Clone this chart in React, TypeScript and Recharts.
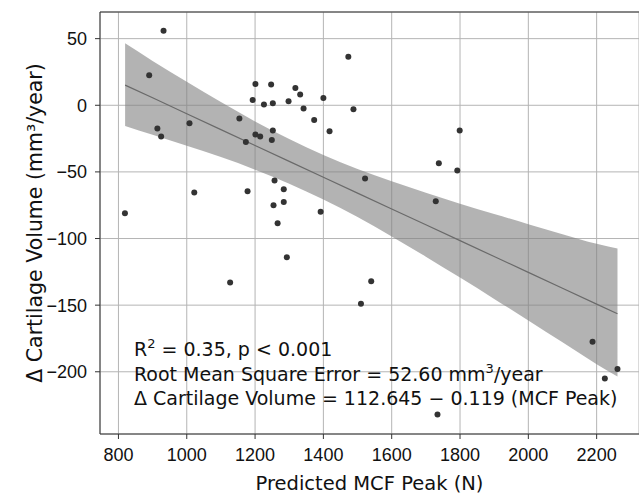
import React from "react";
import {
  ComposedChart,
  Area,
  Line,
  Scatter,
  XAxis,
  YAxis,
  CartesianGrid,
  ReferenceLine,
  Customized,
} from "recharts";

// measured points (MCF peak in N, cartilage change in mm3/year)
const pointX = [
  932, 890, 914, 925, 819, 1008, 1022, 1154, 1173, 1178, 1201, 1193, 1201, 1215, 1226, 1247,
  1252, 1252, 1249, 1257, 1284, 1254, 1284, 1266, 1298, 1318, 1332, 1342, 1373, 1400, 1392,
  1418, 1473, 1488, 1522, 1799, 1738, 1792, 1729, 1293, 1127, 1540, 1510, 2188, 2224, 2261, 1734,
];
const pointY = [
  56, 22.5, -17.5, -23.5, -81, -13.5, -65.5, -10, -27.5, -64.5, 16, 4, -22, -23.5, 0.5, 15.5,
  1.5, -19, -26, -56.5, -63, -75, -72.5, -88.5, 3, 13, 8, -2.5, -11, 5.5, -80,
  -19.5, 36.5, -3, -55, -19, -43.5, -49, -72, -114, -133, -132, -149, -177.5, -205, -198, -232,
];

// regression fit and its confidence band
const bandX = [819.5, 900, 1000, 1100, 1200, 1300, 1400, 1500, 1600, 1700, 1800, 1900, 2000, 2100, 2200, 2261];
const bandUpper = [46.5, 33.3, 17.6, 2.4, -12.1, -25.3, -37.3, -47.8, -57.1, -65.7, -73.9, -81.6, -89.2, -96.7, -104.0, -107.5];
const bandLower = [-15.5, -22.2, -30.4, -38.9, -48.3, -58.8, -70.7, -83.9, -98.5, -113.6, -129.3, -145.3, -161.5, -177.9, -194.3, -203.5];
const fitY = [15.1, 5.6, -6.4, -18.3, -30.2, -42.1, -54.0, -65.9, -77.8, -89.7, -101.6, -113.5, -125.4, -137.3, -149.2, -156.4];

const xTicks = [800, 1000, 1200, 1400, 1600, 1800, 2000, 2200];
const yTicks = [-200, -150, -100, -50, 0, 50];

const points = pointX.map((x, i) => ({ x, y: pointY[i] }));
const bandData = bandX.map((x, i) => ({ x, band: [bandLower[i], bandUpper[i]], fit: fitY[i] }));

const fmt = (v: number) => (v < 0 ? `\u2212${-v}` : `${v}`);

const Notes = () => (
  <g fontFamily="DejaVu Sans" fontSize={19} fill="#111">
    <text x={134} y={356}>
      R<tspan dy={-8} fontSize={13}>2</tspan>
      <tspan dy={8}> = 0.35, p &lt; 0.001</tspan>
    </text>
    <text x={134} y={381}>
      Root Mean Square Error = 52.60 mm<tspan dy={-8} fontSize={13}>3</tspan>
      <tspan dy={8}>/year</tspan>
    </text>
    <text x={134} y={405}>Δ Cartilage Volume = 112.645 − 0.119 (MCF Peak)</text>
  </g>
);

export default function App() {
  return (
    <div style={{ position: "absolute", left: 0, top: 0, background: "#fff" }}>
      <ComposedChart width={639} height={494} data={bandData} margin={{ top: 12, right: 0, bottom: 0, left: 0 }}>
        <CartesianGrid stroke="#b4b4b4" strokeWidth={1} />
        <XAxis
          type="number"
          dataKey="x"
          domain={[746, 2324]}
          ticks={xTicks}
          allowDataOverflow
          height={60}
          stroke="#333"
          tickSize={5}
          tickMargin={9}
          tick={{ fill: "#111", fontSize: 18, fontFamily: "Liberation Sans" }}
          label={{
            value: "Predicted MCF Peak (N)",
            position: "insideBottom",
            offset: 4,
            fill: "#111",
            fontSize: 19.5,
            fontFamily: "DejaVu Sans",
          }}
        />
        <YAxis
          type="number"
          dataKey="y"
          domain={[-246.7, 70]}
          ticks={yTicks}
          allowDataOverflow
          width={100}
          stroke="#333"
          tickSize={5}
          tickMargin={8}
          tickFormatter={fmt}
          tick={{ fill: "#111", fontSize: 18, fontFamily: "Liberation Sans" }}
          label={{
            value: "Δ Cartilage Volume (mm³/year)",
            angle: -90,
            position: "insideLeft",
            offset: 35,
            fill: "#111",
            fontSize: 20.5,
            fontFamily: "DejaVu Sans",
            style: { textAnchor: "middle" },
          }}
        />
        <ReferenceLine y={70} stroke="#333" />
        <Area
          type="monotone"
          dataKey="band"
          stroke="none"
          fill="#808080"
          fillOpacity={0.6}
          isAnimationActive={false}
        />
        <Line type="linear" dataKey="fit" stroke="#6a6a6a" strokeWidth={1.2} dot={false} isAnimationActive={false} />
        <Scatter
          data={points}
          isAnimationActive={false}
          shape={(p: any) => <circle cx={p.cx} cy={p.cy} r={3} fill="#333" />}
        />
        <Customized component={Notes} />
      </ComposedChart>
    </div>
  );
}
